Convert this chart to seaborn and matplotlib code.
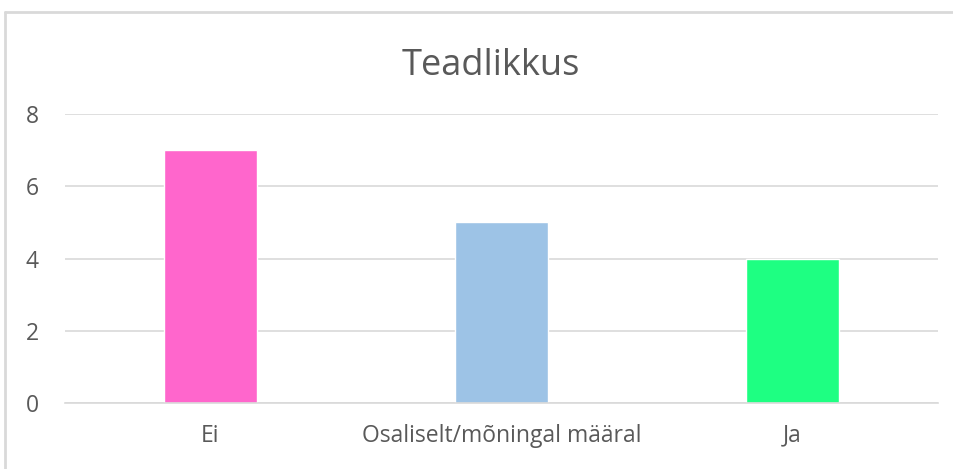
import matplotlib
matplotlib.use("Agg")
import matplotlib.pyplot as plt
import seaborn as sns
import pandas as pd
from matplotlib.lines import Line2D

# data
categories = ["Ei", "Osaliselt/mõningal määral", "Ja"]
values = [7, 5, 4]
colors = ["#FF66CC", "#9DC3E6", "#1EFF82"]
yticks = [0, 2, 4, 6, 8]

df = pd.DataFrame({"Vastus": categories, "Arv": values})

sns.set_style("white")
plt.rcParams["font.family"] = ["Open Sans", "DejaVu Sans"]

fig = plt.figure(figsize=(9.54, 4.69), dpi=100)
ax = fig.add_axes([0.0681, 0.1407, 0.9151, 0.6162])

sns.barplot(data=df, x="Vastus", y="Arv", hue="Vastus", palette=colors,
            width=0.318, legend=False, ax=ax, saturation=1)

ax.set_ylim(0, 8)
ax.set_yticks(yticks)
ax.set_xlim(-0.5, 2.5)
ax.yaxis.grid(True, color="#D9D9D9", linewidth=1.2)
ax.set_axisbelow(True)
for s in ["top", "right", "left"]:
    ax.spines[s].set_visible(False)
ax.spines["bottom"].set_color("#D9D9D9")
ax.spines["bottom"].set_linewidth(1.2)
ax.tick_params(axis="both", length=0, labelsize=16.5, labelcolor="#595959")
ax.tick_params(axis="y", pad=19)
ax.tick_params(axis="x", pad=15)
ax.set_xlabel("")
ax.set_ylabel("")

fig.text(0.514, 0.86, "Teadlikkus", ha="center", va="center",
         fontsize=26, color="#595959")

# chart frame (only top and left edges are inside the picture)
fx, fy = 5 / 954, 1 - 12 / 469
fig.lines.append(Line2D([fx, 1.0], [fy, fy], transform=fig.transFigure,
                        color="#D9D9D9", linewidth=2))
fig.lines.append(Line2D([fx, fx], [0, fy], transform=fig.transFigure,
                        color="#D9D9D9", linewidth=2))

fig.savefig("out.png", dpi=100)
